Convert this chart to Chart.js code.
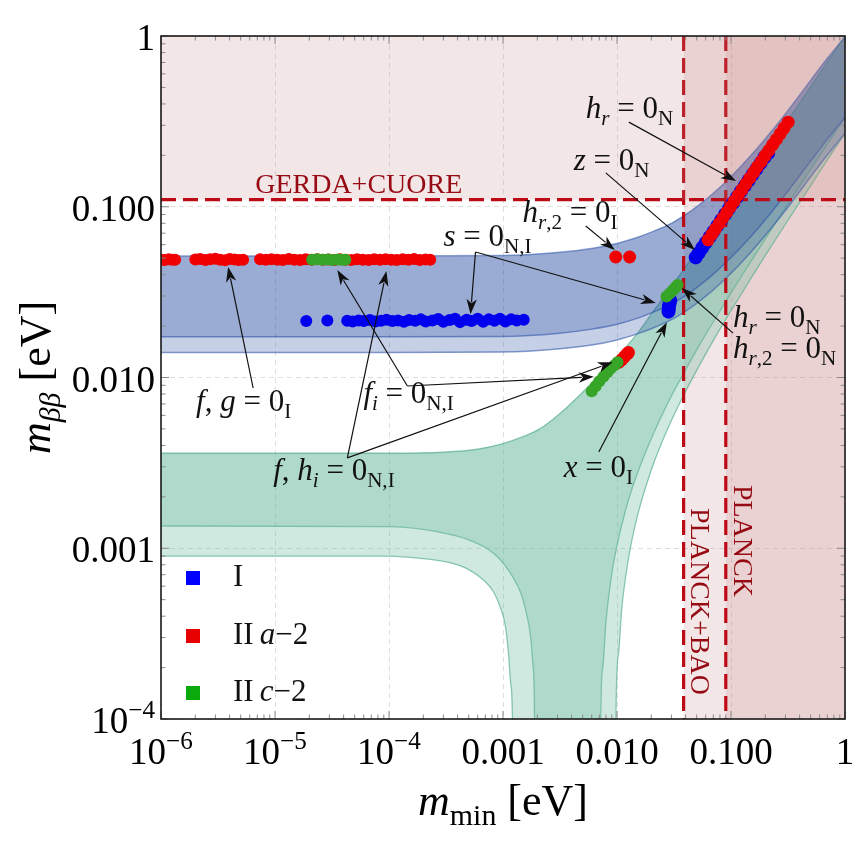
<!DOCTYPE html>
<html>
<head>
<meta charset="utf-8">
<script src="https://cdn.jsdelivr.net/npm/chart.js@4/dist/chart.umd.min.js"></script>
<style>
  html, body { margin: 0; padding: 0; background: #fff; }
  canvas { display: block; }
</style>
</head>
<body>
<canvas id="chart" width="857" height="855"></canvas>
<script>
const SERIF = '"Liberation Serif", "DejaVu Serif", serif';

/* axes */
const xTickValues = [1e-6, 1e-5, 1e-4, 1e-3, 1e-2, 1e-1, 1];
const xTickLabels = ['10^\u22126', '10^\u22125', '10^\u22124', '0.001', '0.010', '0.100', '1'];
const yTickValues = [1e-4, 1e-3, 1e-2, 1e-1, 1];
const yTickLabels = ['10^\u22124', '0.001', '0.010', '0.100', '1'];

/* experimental limits */
const gerdaCuore = 0.11;
const planckBao = 0.0384;
const planck = 0.090;

/* inverted ordering band (blue) */
const ioUpper = [[1e-6,0.0515],[1e-4,0.0515],[1e-3,0.0518],[3e-3,0.054],[6e-3,0.057],[0.01,0.061],[0.015,0.066],[0.02,0.071],[0.03,0.080],[0.04,0.090],[0.05,0.100],[0.07,0.120],[0.1,0.150],[0.15,0.200],[0.2,0.250],[0.3,0.350],[0.5,0.550],[0.7,0.740],[1,0.990]];
const ioDarkLower = [[1e-6,0.0173],[1e-4,0.0173],[1e-3,0.0174],[3e-3,0.0181],[6e-3,0.0192],[0.01,0.0205],[0.015,0.0222],[0.02,0.0239],[0.03,0.0269],[0.04,0.0302],[0.05,0.0336],[0.07,0.0403],[0.1,0.0504],[0.15,0.0672],[0.2,0.084],[0.3,0.118],[0.5,0.185],[0.7,0.249],[1,0.333]];
const ioLightLower = [[1e-6,0.0140],[1e-4,0.0140],[1e-3,0.0141],[3e-3,0.0147],[6e-3,0.0155],[0.01,0.0166],[0.015,0.0180],[0.02,0.0193],[0.03,0.0218],[0.04,0.0245],[0.05,0.0272],[0.07,0.0326],[0.1,0.0408],[0.15,0.0544],[0.2,0.068],[0.3,0.095],[0.5,0.150],[0.7,0.201],[1,0.269]];

/* normal ordering band (green) */
const noUpper = [[1e-6,0.0036],[1e-4,0.0036],[3e-4,0.00365],[6e-4,0.0038],[1e-3,0.0041],[1.5e-3,0.0045],[2.1e-3,0.0050],[3.2e-3,0.0062],[5e-3,0.0082],[7e-3,0.0104],[0.01,0.0132],[0.015,0.018],[0.02,0.0235],[0.03,0.034],[0.05,0.055],[0.1,0.105],[0.2,0.205],[0.5,0.505],[1,1.0]];
const noDarkLower = [[1e-6,0.00135],[1e-4,0.00134],[2e-4,0.00129],[3.5e-4,0.0012],[5e-4,0.00112],[6.8e-4,0.00102],[8.5e-4,0.00092],[1e-3,0.00082],[1.2e-3,0.00069],[1.43e-3,0.00055],[1.6e-3,0.00042],[1.75e-3,0.0003],[1.84e-3,0.0002],[1.89e-3,0.0001],[1.93e-3,1e-7],[7.0e-3,1e-7],[7.2e-3,1e-4],[7.5e-3,2e-4],[8e-3,3.7e-4],[9e-3,7.1e-4],[0.01,1.04e-3],[0.012,1.71e-3],[0.015,2.72e-3],[0.02,4.4e-3],[0.025,6.1e-3],[0.03,7.8e-3],[0.04,0.0111],[0.05,0.0145],[0.07,0.0212],[0.1,0.0313],[0.15,0.048],[0.2,0.065],[0.3,0.0985],[0.5,0.166],[0.7,0.233],[1,0.334]];
const noLightLower = [[1e-6,0.0009],[1e-4,0.0009],[2e-4,0.00087],[3.5e-4,0.00082],[5e-4,0.00075],[6.8e-4,0.00065],[8.2e-4,0.00056],[9.5e-4,0.00045],[1.05e-3,0.00035],[1.12e-3,0.00024],[1.17e-3,0.00016],[1.21e-3,0.0001],[1.25e-3,1e-7],[9.5e-3,1e-7],[0.0098,1.1e-4],[0.0103,2.4e-4],[0.011,4.4e-4],[0.0125,8.4e-4],[0.015,1.52e-3],[0.02,2.88e-3],[0.025,4.24e-3],[0.03,5.6e-3],[0.04,8.3e-3],[0.05,0.011],[0.07,0.0165],[0.1,0.0246],[0.15,0.0382],[0.2,0.0519],[0.3,0.079],[0.5,0.133],[0.7,0.188],[1,0.269]];

/* model points: I (blue) */
const iRow = [[1.88e-5,0.0214],[2.88e-5,0.0216],[4.3e-5,0.0215],[4.8e-5,0.0213],[5.4e-5,0.0216],[6.0e-5,0.0214],[6.8e-5,0.0217],[7.6e-5,0.0213],[8.5e-5,0.0215],[9.5e-5,0.0218],[1.07e-4,0.0214],[1.2e-4,0.0216],[1.35e-4,0.0212],[1.5e-4,0.0217],[1.7e-4,0.0215],[1.9e-4,0.0219],[2.1e-4,0.0213],[2.4e-4,0.0216],[2.7e-4,0.0220],[3.0e-4,0.0212],[3.4e-4,0.0217],[3.8e-4,0.0221],[4.2e-4,0.0211],[4.8e-4,0.0218],[5.3e-4,0.0214],[6.0e-4,0.0221],[6.7e-4,0.0212],[7.5e-4,0.0219],[8.4e-4,0.0215],[9.4e-4,0.0221],[1.05e-3,0.0213],[1.18e-3,0.0219],[1.32e-3,0.0216],[1.52e-3,0.0218]];
const iDiag = [[0.049,0.0505],[0.052,0.0535],[0.056,0.0575],[0.060,0.0615],[0.065,0.0665],[0.070,0.0715],[0.076,0.0775],[0.082,0.0835],[0.089,0.0905],[0.096,0.0975],[0.104,0.105],[0.113,0.114],[0.122,0.123],[0.132,0.1325],[0.143,0.143],[0.155,0.1545],[0.168,0.167],[0.182,0.1805],[0.197,0.195],[0.212,0.2065]];
const iBlob = [[0.0283,0.0243],[0.0284,0.0252],[0.0286,0.0262],[0.0290,0.0272],[0.0293,0.0283]];

/* model points: II a-2 (red) */
const a2Row = [[1.0e-6,0.0490],[1.08e-6,0.0487],[1.17e-6,0.0492],[1.25e-6,0.0489],[1.33e-6,0.0490],
  [2.0e-6,0.0491],[2.2e-6,0.0494],[2.45e-6,0.0488],[2.7e-6,0.0492],[3.0e-6,0.0496],[3.3e-6,0.0490],[3.65e-6,0.0486],[4.0e-6,0.0494],[4.4e-6,0.0491],[4.8e-6,0.0488],[5.25e-6,0.0490],
  [7.4e-6,0.0492],[8.3e-6,0.0489],[9.3e-6,0.0493],[1.05e-5,0.0490],[1.17e-5,0.0487],[1.32e-5,0.0494],[1.48e-5,0.0490],[1.66e-5,0.0488],[1.86e-5,0.0492],[2.09e-5,0.0490],[2.34e-5,0.0493],[2.63e-5,0.0489],[2.95e-5,0.0491],[3.31e-5,0.0488],[3.72e-5,0.0492],[4.17e-5,0.0490],[4.68e-5,0.0487],[5.25e-5,0.0493],[5.89e-5,0.0490],[6.61e-5,0.0488],[7.41e-5,0.0492],[8.32e-5,0.0489],[9.33e-5,0.0493],[1.05e-4,0.0490],[1.17e-4,0.0487],[1.32e-4,0.0492],[1.48e-4,0.0490],[1.66e-4,0.0494],[1.86e-4,0.0488],[2.09e-4,0.0491],[2.3e-4,0.0490]];
const a2Pair = [[0.00975,0.0508],[0.0129,0.0508]];
const a2Short = [[0.0104,0.0123],[0.0110,0.0127],[0.0116,0.0132],[0.0122,0.0137],[0.0126,0.0140]];
const a2Diag = [[0.063,0.064],[0.068,0.069],[0.073,0.074],[0.079,0.080],[0.085,0.086],[0.092,0.093],[0.099,0.100],[0.107,0.108],[0.116,0.117],[0.125,0.126],[0.135,0.136],[0.146,0.147],[0.158,0.159],[0.170,0.171],[0.184,0.184],[0.199,0.199],[0.215,0.214],[0.232,0.231],[0.250,0.248],[0.270,0.267],[0.292,0.289],[0.317,0.313]];

/* model points: II c-2 (green) */
const c2Row = [[2.12e-5,0.0490],[2.35e-5,0.0492],[2.6e-5,0.0489],[2.9e-5,0.0491],[3.2e-5,0.0488],[3.55e-5,0.0491],[3.85e-5,0.0489],[4.14e-5,0.0490]];
const c2Short = [[0.0060,0.0083],[0.0065,0.0089],[0.0070,0.0095],[0.0076,0.0101],[0.0082,0.0107],[0.0088,0.0113],[0.0095,0.0118],[0.0101,0.0123]];
const c2Blob = [[0.0272,0.0298],[0.0290,0.0310],[0.0308,0.0323],[0.0325,0.0337],[0.0340,0.0348]];

/* legend */
const legendLabels = [
  [['I','r']],
  [['II','r'],['\u2009','r'],['a','i'],['\u22122','r']],
  [['II','r'],['\u2009','r'],['c','i'],['\u22122','r']]
];

/* annotations, anchored in data units */
const notes = [
  {text: [['h','i'],['r','si'],[' = 0','r'],['N','s']], at: [5.32e-3,0.331], from: [0.0127,0.313], to: [[0.1107,0.1415]]},
  {text: [['z','i'],[' = 0','r'],['N','s']], at: [4.17e-3,0.164], from: [7.98e-3,0.158], to: [[0.0483,0.0558]]},
  {text: [['h','i'],['r','si'],[',2','s'],[' = 0','r'],['I','s']], at: [1.486e-3,0.0814], from: [5.32e-3,0.0771], to: [[9.57e-3,0.0558]]},
  {text: [['s','i'],[' = 0','r'],['N,I','s']], at: [3.0e-4,0.0589], from: [5.74e-4,0.0543], to: [[5.19e-4,0.0235],[0.0219,0.0273]]},
  {text: [['f','i'],[', ','r'],['g','i'],[' = 0','r'],['I','s']], at: [2.03e-6,0.00637], from: [6.43e-6,0.00868], to: [[3.88e-6,0.0444]]},
  {text: [['f','i'],['i','si'],[' = 0','r'],['N,I','s']], at: [5.96e-5,0.0071], from: [1.45e-4,0.00892], to: [[3.52e-5,0.0426],[6.25e-3,0.0101]]},
  {text: [['f','i'],[', ','r'],['h','i'],['i','si'],[' = 0','r'],['N,I','s']], at: [9.64e-6,0.00251], from: [4.31e-5,0.00338], to: [[9.49e-5,0.042],[9.18e-3,0.0123]]},
  {text: [['x','i'],[' = 0','r'],['I','s']], at: [3.41e-3,0.00261], from: [6.92e-3,0.00366], to: [[0.0274,0.0211]]},
  {text: [['h','i'],['r','si'],[' = 0','r'],['N','s']], at: [0.1043,0.0198]},
  {text: [['h','i'],['r','si'],[',2','s'],[' = 0','r'],['N','s']], at: [0.1043,0.0130], from: [0.1043,0.0182], to: [[0.0371,0.0334]]}
];

const regionLabels = [
  {text: 'GERDA+CUORE', at: [6.7e-6,0.1204], rot: 0},
  {text: 'PLANCK+BAO', at: [0.0446,0.00172], rot: Math.PI / 2},
  {text: 'PLANCK', at: [0.1062,0.00235], rot: Math.PI / 2}
];

/* colours */
const blue = 'rgb(0,0,238)';
const red = 'rgb(240,0,0)';
const green = 'rgb(55,165,40)';
const legendColors = ['rgb(0,0,255)', 'rgb(230,0,0)', 'rgb(10,170,10)'];
const limitRed = 'rgb(188,10,22)';
const pink = 'rgba(195,130,130,0.2)';
const ioFill = 'rgba(30,70,160,0.26)';
const ioEdge = 'rgba(60,95,175,0.6)';
const noFill = 'rgba(98,182,152,0.3)';
const noEdge = 'rgba(90,175,145,0.7)';

const xy = arr => arr.map(([x, y]) => ({x, y}));

function pts(data, color, r, order){
  return {data: xy(data), showLine: false, pointRadius: r, pointHoverRadius: r,
    pointBackgroundColor: color, pointBorderWidth: 0, order};
}
function edge(data, opts){
  return Object.assign({data: xy(data), pointRadius: 0, borderWidth: 0, borderColor: 'rgba(0,0,0,0)',
    fill: false, cubicInterpolationMode: 'monotone'}, opts);
}
function limitLine(data){
  return {data: xy(data), borderColor: limitRed, borderWidth: 3.2, borderDash: [15, 7],
    pointRadius: 0, fill: false, tension: 0, order: 3};
}

const datasets = [
  pts(c2Row, green, 6, 0),
  pts(c2Short, green, 6, 0),
  pts(c2Blob, green, 6, 0),
  pts(a2Row, red, 6, 1),
  pts(a2Pair, red, 6.5, 1),
  pts(a2Short, red, 6.5, 1),
  pts(a2Diag, red, 6.5, 1),
  pts(iRow, blue, 6, 2),
  pts(iDiag, blue, 7, 2),
  pts(iBlob, blue, 7, 2),
  Object.assign(limitLine([[1e-6, gerdaCuore], [1, gerdaCuore]]), {fill: 'end', backgroundColor: pink}),
  limitLine([[planckBao, 1], [planckBao, 1e-4]]),
  limitLine([[planck, 1], [planck, 1e-4]]),
  {data: xy([[planckBao, 10], [1, 10]]), pointRadius: 0, borderWidth: 0, fill: 'start', backgroundColor: pink, order: 8},
  {data: xy([[planck, 10], [1, 10]]), pointRadius: 0, borderWidth: 0, fill: 'start', backgroundColor: pink, order: 8},
  edge(ioUpper, {borderWidth: 1.5, borderColor: ioEdge, fill: '+1', backgroundColor: ioFill, order: 5}),
  edge(ioLightLower, {borderWidth: 1.5, borderColor: ioEdge, order: 5}),
  edge(ioUpper, {fill: '+1', backgroundColor: ioFill, order: 5}),
  edge(ioDarkLower, {borderWidth: 1.5, borderColor: ioEdge, order: 5}),
  edge(noUpper, {borderWidth: 1.3, borderColor: noEdge, fill: '+1', backgroundColor: noFill, order: 6}),
  edge(noLightLower, {borderWidth: 1.3, borderColor: noEdge, order: 6}),
  edge(noUpper, {fill: '+1', backgroundColor: noFill, order: 6}),
  edge(noDarkLower, {borderWidth: 1.3, borderColor: noEdge, order: 6})
];

/* text with italic / sub / superscript pieces */
function drawParts(ctx, parts, x, y, size, align){
  const segs = parts.map(([t, k]) => {
    const small = k === 's' || k === 'si' || k === 'p';
    const fs = small ? size * 0.68 : size;
    const font = (k === 'i' || k === 'si' ? 'italic ' : '') + fs + 'px ' + SERIF;
    ctx.font = font;
    const dy = (k === 's' || k === 'si') ? size * 0.22 : (k === 'p' ? -size * 0.4 : 0);
    return {t, font, dy, w: ctx.measureText(t).width};
  });
  const total = segs.reduce((s, p) => s + p.w, 0);
  let cx = align === 'center' ? x - total / 2 : align === 'right' ? x - total : x;
  ctx.textAlign = 'left';
  ctx.textBaseline = 'alphabetic';
  segs.forEach(p => { ctx.font = p.font; ctx.fillText(p.t, cx, y + p.dy); cx += p.w; });
}
function tickParts(label){
  if (label.includes('^')) {
    const [b, e] = label.split('^');
    return [[b, 'r'], [e, 'p']];
  }
  return [[label, 'r']];
}
function arrow(ctx, x0, y0, x1, y1){
  const a = Math.atan2(y1 - y0, x1 - x0), L = 15, W = 5.2;
  const c = Math.cos(a), s = Math.sin(a);
  ctx.beginPath();
  ctx.moveTo(x0, y0);
  ctx.lineTo(x1 - 0.8 * L * c, y1 - 0.8 * L * s);
  ctx.stroke();
  ctx.beginPath();
  ctx.moveTo(x1, y1);
  ctx.lineTo(x1 - L * c + W * s, y1 - L * s - W * c);
  ctx.lineTo(x1 - 0.72 * L * c, y1 - 0.72 * L * s);
  ctx.lineTo(x1 - L * c - W * s, y1 - L * s + W * c);
  ctx.closePath();
  ctx.fill();
}

const decor = {
  id: 'decor',
  afterDraw(chart){
    const ctx = chart.ctx, area = chart.chartArea;
    const sx = chart.scales.x, sy = chart.scales.y;
    const px = v => sx.getPixelForValue(v), py = v => sy.getPixelForValue(v);
    ctx.save();

    // tick marks on all four sides
    ctx.strokeStyle = '#8a8a8a';
    ctx.lineWidth = 1;
    ctx.beginPath();
    for (let k = -6; k <= 0; k++) {
      for (let m = 1; m <= 9; m++) {
        const v = m * Math.pow(10, k);
        if (v > 1.0001) break;
        const p = px(v), len = m === 1 ? 8 : 4.5;
        ctx.moveTo(p, area.bottom); ctx.lineTo(p, area.bottom - len);
        ctx.moveTo(p, area.top); ctx.lineTo(p, area.top + len);
      }
    }
    for (let k = -4; k <= 0; k++) {
      for (let m = 1; m <= 9; m++) {
        const v = m * Math.pow(10, k);
        if (v > 1.0001) break;
        const p = py(v), len = m === 1 ? 8 : 4.5;
        ctx.moveTo(area.left, p); ctx.lineTo(area.left + len, p);
        ctx.moveTo(area.right, p); ctx.lineTo(area.right - len, p);
      }
    }
    ctx.stroke();

    // frame
    ctx.strokeStyle = '#1a1a1a';
    ctx.lineWidth = 1.6;
    ctx.strokeRect(area.left, area.top, area.right - area.left, area.bottom - area.top);

    // tick labels
    ctx.fillStyle = '#000';
    xTickValues.forEach((v, i) => drawParts(ctx, tickParts(xTickLabels[i]), px(v), area.bottom + 45, 37, 'center'));
    yTickValues.forEach((v, i) => drawParts(ctx, tickParts(yTickLabels[i]), area.left - 6, py(v) + 14, 37, 'right'));

    // axis titles
    drawParts(ctx, [['m','i'],['min','s'],[' [eV]','r']], (area.left + area.right) / 2, 815, 44, 'center');
    ctx.save();
    ctx.translate(50, (area.top + area.bottom) / 2);
    ctx.rotate(-Math.PI / 2);
    drawParts(ctx, [['m','i'],['\u03b2\u03b2','si'],[' [eV]','r']], 0, 0, 44, 'center');
    ctx.restore();

    // limit labels
    ctx.fillStyle = 'rgb(150,10,20)';
    regionLabels.forEach(r => {
      ctx.save();
      ctx.translate(px(r.at[0]), py(r.at[1]));
      ctx.rotate(r.rot);
      ctx.font = '28px ' + SERIF;
      ctx.textAlign = 'left';
      ctx.textBaseline = 'alphabetic';
      ctx.fillText(r.text, 0, 0);
      ctx.restore();
    });

    // annotations
    ctx.fillStyle = '#111';
    ctx.strokeStyle = '#111';
    ctx.lineWidth = 1.2;
    notes.forEach(n => {
      drawParts(ctx, n.text, px(n.at[0]), py(n.at[1]), 31, 'left');
      if (n.from) n.to.forEach(t => arrow(ctx, px(n.from[0]), py(n.from[1]), px(t[0]), py(t[1])));
    });

    // legend
    const rows = [area.bottom - 141, area.bottom - 83, area.bottom - 26];
    legendLabels.forEach((lab, i) => {
      ctx.fillStyle = legendColors[i];
      ctx.fillRect(area.left + 25, rows[i] - 7, 14, 14);
      ctx.fillStyle = '#111';
      drawParts(ctx, lab, area.left + 72, rows[i] + 8, 31, 'left');
    });
    ctx.restore();
  }
};

const gridOpts = {color: 'rgba(0,0,0,0.13)', lineWidth: 1, drawTicks: false};

new Chart(document.getElementById('chart'), {
  type: 'line',
  data: {datasets},
  options: {
    responsive: false,
    devicePixelRatio: 1,
    animation: false,
    events: [],
    layout: {padding: {top: 36, right: 12, left: 0, bottom: 0}},
    plugins: {legend: {display: false}, tooltip: {enabled: false}},
    scales: {
      x: {
        type: 'logarithmic', min: 1e-6, max: 1,
        afterBuildTicks: s => { s.ticks = xTickValues.map(v => ({value: v})); },
        afterFit: s => { s.height = 136; },
        ticks: {display: false},
        grid: gridOpts,
        border: {display: false, dash: [5, 4]}
      },
      y: {
        type: 'logarithmic', min: 1e-4, max: 1,
        afterBuildTicks: s => { s.ticks = yTickValues.map(v => ({value: v})); },
        afterFit: s => { s.width = 161; },
        ticks: {display: false},
        grid: gridOpts,
        border: {display: false, dash: [5, 4]}
      }
    }
  },
  plugins: [decor]
});
</script>
</body>
</html>
